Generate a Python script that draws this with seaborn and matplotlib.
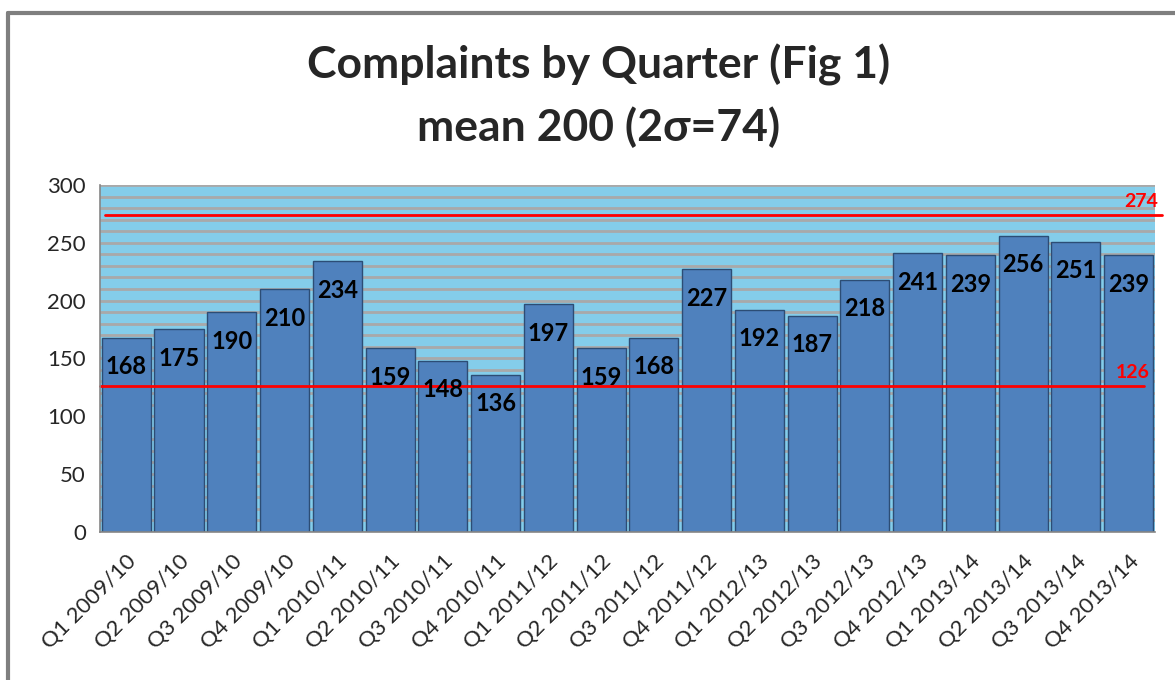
import matplotlib
matplotlib.use("Agg")
import matplotlib.pyplot as plt
import matplotlib.transforms as mtransforms
from matplotlib.lines import Line2D
import seaborn as sns
import pandas as pd
import numpy as np

sns.set_style("white")
plt.rcParams['font.family'] = ['Lato', 'DejaVu Sans']

quarters = ["Q1 2009/10", "Q2 2009/10", "Q3 2009/10", "Q4 2009/10",
            "Q1 2010/11", "Q2 2010/11", "Q3 2010/11", "Q4 2010/11",
            "Q1 2011/12", "Q2 2011/12", "Q3 2011/12", "Q4 2011/12",
            "Q1 2012/13", "Q2 2012/13", "Q3 2012/13", "Q4 2012/13",
            "Q1 2013/14", "Q2 2013/14", "Q3 2013/14", "Q4 2013/14"]
complaints = [168, 175, 190, 210, 234, 159, 148, 136, 197, 159,
              168, 227, 192, 187, 218, 241, 239, 256, 251, 239]
upper_limit = 274
lower_limit = 126

df = pd.DataFrame({"quarter": quarters, "complaints": complaints})

fig = plt.figure(figsize=(11.75, 6.8), dpi=100)
ax = fig.add_axes([0.085, 0.218, 0.898, 0.51])
ax.set_facecolor("#84CDEA")

sns.barplot(data=df, x="quarter", y="complaints", color="#4F81BD", saturation=1,
            width=0.93, edgecolor="#2C4D75", linewidth=1, ax=ax)

ax.set_xlim(-0.5, len(quarters) - 0.5)
ax.set_ylim(0, 300)
ax.set_xlabel("")
ax.set_ylabel("")

# gridlines every 10, labels every 50
ax.set_yticks(range(0, 301, 50))
ax.set_yticks(range(0, 301, 10), minor=True)
ax.grid(axis="y", which="both", color="#A9A9A9", lw=2)
ax.set_axisbelow(True)
ax.tick_params(axis="y", which="major", length=8, width=1.2, color="#868686",
               labelsize=16, labelcolor="#262626", pad=2)
ax.tick_params(axis="y", which="minor", length=0)

# category labels at centres, tick marks between bars
ax.set_xticks(np.arange(len(quarters)))
ax.set_xticklabels(quarters, rotation=45, ha="right", rotation_mode="anchor")
ax.set_xticks(np.arange(-0.5, len(quarters)), minor=True)
ax.tick_params(axis="x", which="major", length=0, labelsize=16,
               labelcolor="#262626", pad=14)
ax.tick_params(axis="x", which="minor", length=8, width=1.2, color="#868686")

for s in ["top", "right"]:
    ax.spines[s].set_visible(False)
for s in ["left", "bottom"]:
    ax.spines[s].set_color("#868686")
    ax.spines[s].set_linewidth(1.2)

# value labels inside the top of each bar
for i, v in enumerate(complaints):
    ax.annotate(str(v), (i, v), xytext=(0, -21), textcoords="offset points",
                ha="center", va="center", fontsize=17, fontweight="bold", color="black")

# control limits
trans = mtransforms.blended_transform_factory(ax.transAxes, ax.transData)
ax.axhline(upper_limit, xmin=0.005, xmax=1.007, color="#FF0000", lw=2, clip_on=False)
ax.axhline(lower_limit, xmin=0.0, xmax=0.99, color="#FF0000", lw=2, clip_on=False)
ax.text(1.003, upper_limit + 4, str(upper_limit), transform=trans, ha="right", va="bottom",
        color="#FF0000", fontsize=14, fontweight="bold")
ax.text(0.995, lower_limit + 4, str(lower_limit), transform=trans, ha="right", va="bottom",
        color="#FF0000", fontsize=14, fontweight="bold")

fig.text(0.509, 1 - 65 / 680, "Complaints by Quarter (Fig 1)", ha="center", va="center",
         fontsize=32, fontweight="bold")
fig.text(0.509, 1 - 127 / 680, "mean 200 (2σ=74)", ha="center", va="center",
         fontsize=32, fontweight="bold")

# outer chart frame
fig.add_artist(Line2D([8 / 1175, 8 / 1175], [0, 1 - 13 / 680], transform=fig.transFigure,
                      color="#7F7F7F", lw=3))
fig.add_artist(Line2D([8 / 1175, 1], [1 - 13 / 680, 1 - 13 / 680], transform=fig.transFigure,
                      color="#7F7F7F", lw=3))

fig.savefig("out.png", dpi=100)
